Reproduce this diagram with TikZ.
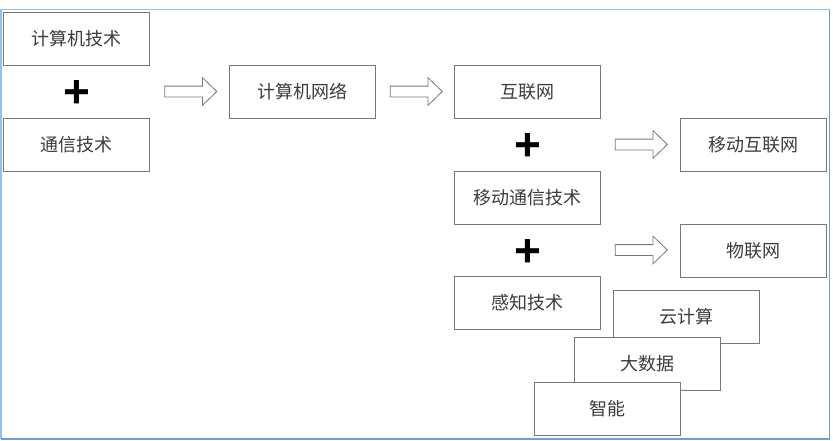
\documentclass[tikz,border=0pt]{standalone}
\usepackage{fontspec}
\setmainfont{Noto Sans CJK SC}
\newfontfamily\plusfont{Liberation Sans}
\usetikzlibrary{shapes.arrows}
\definecolor{framelight}{RGB}{150,192,232}
\definecolor{framedark}{RGB}{105,160,215}
\definecolor{boxline}{RGB}{120,120,120}
\definecolor{boxtext}{RGB}{60,60,60}
\tikzset{
  techbox/.style={draw=boxline, line width=0.8pt, fill=white, text=boxtext,
    minimum width=146pt, minimum height=53pt, inner sep=0pt,
    font=\fontsize{18}{21}\selectfont},
  plussign/.style={inner sep=0pt, font=\plusfont\bfseries\fontsize{46}{46}\selectfont},
  hollowarrow/.style={single arrow, draw=boxline, line width=0.8pt, fill=white,
    inner sep=5pt, single arrow head extend=8.5pt, single arrow tip angle=88,
    minimum height=52pt}
}
\begin{document}
\begin{tikzpicture}[x=1pt, y=-1pt]
  \useasboundingbox (0,0) rectangle (833,440);
  % frame
  \draw[framelight, line width=1.8pt] (830,9.5) -- (1,9.5) -- (1,439);
  \draw[framedark, line width=1.8pt] (1,439) -- (829.5,439) -- (829.5,9.5);
  % first row
  \node[techbox] (computer) at (76,38.5) {计算机技术};
  \node[plussign] (plus-1) at (77,94.5) {+};
  \node[techbox] (comm) at (76,144.5) {通信技术};
  \node[hollowarrow] (arrow-1) at (188,91.5) {};
  \node[techbox] (network) at (302,92) {计算机网络};
  \node[hollowarrow] (arrow-2) at (413.5,91.5) {};
  \node[techbox] (internet) at (527,92) {互联网};
  \node[plussign] (plus-2) at (528,147.5) {+};
  \node[techbox] (mobilecomm) at (527,197.5) {移动通信技术};
  \node[hollowarrow] (arrow-3) at (638.5,144.5) {};
  \node[techbox] (mobilenet) at (753,144.5) {移动互联网};
  \node[plussign] (plus-3) at (528,253) {+};
  \node[techbox] (sensing) at (527,303) {感知技术};
  \node[hollowarrow] (arrow-4) at (638.5,250) {};
  \node[techbox] (iot) at (753,250.5) {物联网};
  % stacked cards
  \node[techbox] (cloud) at (686.5,316.5) {云计算};
  \node[techbox] (bigdata) at (647,363.5) {大数据};
  \node[techbox] (smart) at (607,408.5) {智能};
\end{tikzpicture}
\end{document}
